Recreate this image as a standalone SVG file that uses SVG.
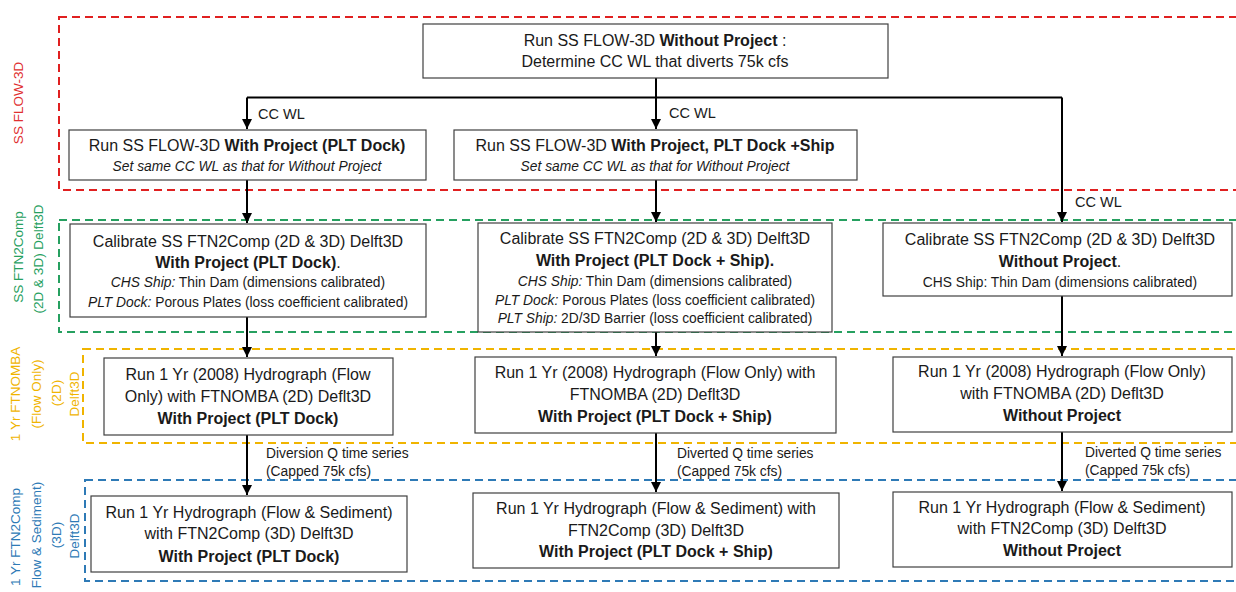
<svg xmlns="http://www.w3.org/2000/svg" width="1236" height="592" viewBox="0 0 1236 592">
<style>
text{font-family:"Liberation Sans",Arial,sans-serif;fill:#1a1a1a;text-anchor:middle}
.t{font-size:16px}
.s{font-size:13.8px}
.b{font-weight:bold}
.i{font-style:italic}
.box{fill:#fff;stroke:#404040;stroke-width:1.2}
.con{fill:none;stroke:#000;stroke-width:2}
.zone{fill:none;stroke-width:2;stroke-dasharray:8 5}
.lbl{font-size:13.5px}
.cl{font-size:14.5px;text-anchor:start}
.cs{font-size:13.8px;text-anchor:start}
</style>
<defs>
<marker id="ah" viewBox="0 0 10 10" refX="10" refY="5" markerWidth="5" markerHeight="5" orient="auto" markerUnits="strokeWidth">
<path d="M0,0 L10,5 L0,10 z" fill="#000"/>
</marker>
</defs>
<g id="zones">
<rect class="zone" x="59" y="17" width="1200" height="173" stroke="#e02020"/>
<rect class="zone" x="59" y="220" width="1200" height="112" stroke="#26a060"/>
<rect class="zone" x="83" y="349" width="1200" height="94" stroke="#f0b400"/>
<rect class="zone" x="85" y="480" width="1200" height="101" stroke="#2e7ab6"/>
</g>
<g id="zone-labels" class="lbl">
<text transform="translate(23,103) rotate(-90)" style="fill:#e03030">SS FLOW-3D</text>
<text transform="translate(23,257) rotate(-90)" style="fill:#26a060">SS FTN2Comp</text>
<text transform="translate(43,259) rotate(-90)" style="fill:#26a060">(2D &amp; 3D) Delft3D</text>
<text transform="translate(20,394) rotate(-90)" style="fill:#f0b400">1 Yr FTNOMBA</text>
<text transform="translate(41,394) rotate(-90)" style="fill:#f0b400">(Flow Only)</text>
<text transform="translate(61,393) rotate(-90)" style="fill:#f0b400">(2D)</text>
<text transform="translate(79,394) rotate(-90)" style="fill:#f0b400">Delft3D</text>
<text transform="translate(20,537) rotate(-90)" style="fill:#2e7ab6">1 Yr FTN2Comp</text>
<text transform="translate(41,535) rotate(-90)" style="fill:#2e7ab6">Flow &amp; Sediment)</text>
<text transform="translate(61,535) rotate(-90)" style="fill:#2e7ab6">(3D)</text>
<text transform="translate(79,536) rotate(-90)" style="fill:#2e7ab6">Delft3D</text>
</g>
<g id="connectors">
<path class="con" d="M656,78 V97.5"/>
<path class="con" d="M247,97.5 H1062"/>
<path class="con" d="M247,97.5 V129" marker-end="url(#ah)"/>
<path class="con" d="M656,97.5 V129" marker-end="url(#ah)"/>
<path class="con" d="M1062,97.5 V222" marker-end="url(#ah)"/>
<path class="con" d="M247,180 V223" marker-end="url(#ah)"/>
<path class="con" d="M656,180 V222" marker-end="url(#ah)"/>
<path class="con" d="M247,317 V357" marker-end="url(#ah)"/>
<path class="con" d="M656,332 V356" marker-end="url(#ah)"/>
<path class="con" d="M1062,296 V356" marker-end="url(#ah)"/>
<path class="con" d="M247,435 V495" marker-end="url(#ah)"/>
<path class="con" d="M656,433 V492" marker-end="url(#ah)"/>
<path class="con" d="M1062,432 V491" marker-end="url(#ah)"/>
<text class="cl" x="258" y="119">CC WL</text>
<text class="cl" x="669" y="118">CC WL</text>
<text class="cl" x="1075" y="207">CC WL</text>
<text class="cs" x="266" y="458">Diversion Q time series</text>
<text class="cs" x="266" y="476">(Capped 75k cfs)</text>
<text class="cs" x="677" y="458">Diverted Q time series</text>
<text class="cs" x="677" y="476">(Capped 75k cfs)</text>
<text class="cs" x="1085" y="457">Diverted Q time series</text>
<text class="cs" x="1085" y="475">(Capped 75k cfs)</text>
</g>
<g id="n-top">
<rect class="box" x="423" y="24" width="465" height="54"/>
<text class="t" x="655" y="46">Run SS FLOW-3D <tspan class="b">Without Project</tspan> :</text>
<text class="t" x="655" y="67">Determine CC WL that diverts 75k cfs</text>
</g>
<g id="n-ss-dock">
<rect class="box" x="69" y="130" width="357" height="50"/>
<text class="t" x="247" y="151">Run SS FLOW-3D <tspan class="b">With Project (PLT Dock)</tspan></text>
<text class="s i" x="247" y="171">Set same CC WL as that for Without Project</text>
</g>
<g id="n-ss-ship">
<rect class="box" x="454" y="130" width="403" height="50"/>
<text class="t" x="655" y="151">Run SS FLOW-3D <tspan class="b">With Project, PLT Dock +Ship</tspan></text>
<text class="s i" x="655" y="171">Set same CC WL as that for Without Project</text>
</g>
<g id="n-cal-dock">
<rect class="box" x="70" y="224" width="356" height="93"/>
<text class="t" x="248" y="247">Calibrate SS FTN2Comp (2D &amp; 3D) Delft3D</text>
<text class="t" x="248" y="268"><tspan class="b">With Project (PLT Dock)</tspan>.</text>
<text class="s" x="248" y="287"><tspan class="i">CHS Ship:</tspan> Thin Dam (dimensions calibrated)</text>
<text class="s" x="248" y="307"><tspan class="i">PLT Dock:</tspan> Porous Plates (loss coefficient calibrated)</text>
</g>
<g id="n-cal-ship">
<rect class="box" x="478" y="223" width="354" height="109"/>
<text class="t" x="655" y="244">Calibrate SS FTN2Comp (2D &amp; 3D) Delft3D</text>
<text class="t b" x="655" y="266">With Project (PLT Dock + Ship).</text>
<text class="s" x="655" y="286"><tspan class="i">CHS Ship:</tspan> Thin Dam (dimensions calibrated)</text>
<text class="s" x="655" y="305"><tspan class="i">PLT Dock:</tspan> Porous Plates (loss coefficient calibrated)</text>
<text class="s" x="655" y="323"><tspan class="i">PLT Ship:</tspan> 2D/3D Barrier (loss coefficient calibrated)</text>
</g>
<g id="n-cal-without">
<rect class="box" x="883" y="223" width="349" height="73"/>
<text class="t" x="1060" y="245">Calibrate SS FTN2Comp (2D &amp; 3D) Delft3D</text>
<text class="t" x="1060" y="267"><tspan class="b">Without Project</tspan>.</text>
<text class="s" x="1060" y="287">CHS Ship: Thin Dam (dimensions calibrated)</text>
</g>
<g id="n-flow-dock">
<rect class="box" x="104" y="358" width="289" height="77"/>
<text class="t" x="248" y="380">Run 1 Yr (2008) Hydrograph (Flow</text>
<text class="t" x="248" y="402">Only) with FTNOMBA (2D) Deflt3D</text>
<text class="t b" x="248" y="424">With Project (PLT Dock)</text>
</g>
<g id="n-flow-ship">
<rect class="box" x="475" y="357" width="361" height="76"/>
<text class="t" x="655" y="378">Run 1 Yr (2008) Hydrograph (Flow Only) with</text>
<text class="t" x="655" y="400">FTNOMBA (2D) Deflt3D</text>
<text class="t b" x="655" y="422">With Project (PLT Dock + Ship)</text>
</g>
<g id="n-flow-without">
<rect class="box" x="893" y="357" width="339" height="75"/>
<text class="t" x="1062" y="377">Run 1 Yr (2008) Hydrograph (Flow Only)</text>
<text class="t" x="1062" y="399">with FTNOMBA (2D) Deflt3D</text>
<text class="t b" x="1062" y="421">Without Project</text>
</g>
<g id="n-sed-dock">
<rect class="box" x="91" y="496" width="316" height="76"/>
<text class="t" x="249" y="518">Run 1 Yr Hydrograph (Flow &amp; Sediment)</text>
<text class="t" x="249" y="539">with FTN2Comp (3D) Delft3D</text>
<text class="t b" x="249" y="562">With Project (PLT Dock)</text>
</g>
<g id="n-sed-ship">
<rect class="box" x="473" y="493" width="366" height="75"/>
<text class="t" x="656" y="514">Run 1 Yr Hydrograph (Flow &amp; Sediment) with</text>
<text class="t" x="656" y="536">FTN2Comp (3D) Delft3D</text>
<text class="t b" x="656" y="557">With Project (PLT Dock +  Ship)</text>
</g>
<g id="n-sed-without">
<rect class="box" x="893" y="492" width="339" height="75"/>
<text class="t" x="1062" y="513">Run 1 Yr Hydrograph (Flow &amp; Sediment)</text>
<text class="t" x="1062" y="534">with FTN2Comp (3D) Delft3D</text>
<text class="t b" x="1062" y="556">Without Project</text>
</g>
</svg>
